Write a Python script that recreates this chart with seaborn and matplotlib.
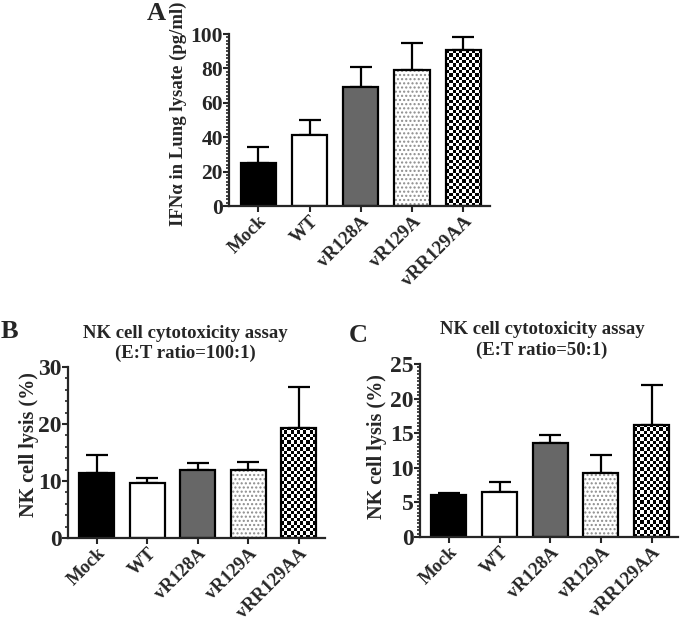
import numpy as np
import pandas as pd
import matplotlib
matplotlib.use("Agg")
import matplotlib.pyplot as plt
from matplotlib.ticker import MultipleLocator
import seaborn as sns

categories = ["Mock", "WT", "vR128A", "vR129A", "vRR129AA"]
ifn_mean = [25, 41, 69, 79, 90.5]
ifn_top = [34.5, 50, 81, 95, 98.5]
nk100_mean = [11.4, 9.7, 12.0, 12.0, 19.3]
nk100_top = [14.5, 10.5, 13.1, 13.3, 26.5]
nk50_mean = [6.0, 6.5, 13.6, 9.2, 16.2]
nk50_top = [6.4, 8.0, 14.7, 11.8, 22.0]

sns.set_theme(style="ticks")
plt.rcParams["font.family"] = ["Liberation Serif", "DejaVu Serif"]
plt.rcParams["font.weight"] = "bold"
plt.rcParams["axes.labelweight"] = "bold"
plt.rcParams["hatch.linewidth"] = 1.0

fig = plt.figure(figsize=(6.8, 6.23), dpi=100)
axA = fig.add_axes([229/680, 1-206/623, 261/680, 172/623])
axB = fig.add_axes([68/680, 1-538/623, 257/680, 171/623])
axC = fig.add_axes([420/680, 1-537/623, 258/680, 173/623])

fills = ["black", "white", "#676767", "white", "white"]


def draw(ax, mean, top, ymax, major, minor, ylabel, ylsize, yticksize):
    df = pd.DataFrame({"cat": categories, "val": mean})
    sns.barplot(data=df, x="cat", y="val", hue="cat", palette=fills,
                legend=False, ax=ax, width=0.69, edgecolor="black",
                linewidth=1.6, saturation=1, zorder=2)
    err_up = np.array(top) - np.array(mean)
    ax.errorbar(np.arange(len(mean)), mean, yerr=[np.zeros(len(mean)), err_up],
                fmt="none", ecolor="black", elinewidth=1.6, capsize=8,
                capthick=1.6, zorder=1)
    patches = ax.patches[:5]
    patches[3].set_hatch("....")
    patches[3].set_edgecolor("black")
    try:
        patches[3]._hatch_color = (0.55, 0.55, 0.55, 1)
    except Exception:
        pass
    ax.set_xlim(-0.57, 4.52)
    ax.set_ylim(0, ymax)
    ax.yaxis.set_major_locator(MultipleLocator(major))
    ax.yaxis.set_minor_locator(MultipleLocator(minor))
    ax.set_xlabel("")
    ax.set_ylabel(ylabel, fontsize=ylsize, fontweight="bold")
    ax.tick_params(axis="both", which="major", length=4, width=1.5, pad=1)
    ax.tick_params(axis="y", which="major", labelsize=yticksize, pad=0.5)
    ax.tick_params(axis="y", which="minor", length=2.5, width=1.2)
    ax.set_xticks(range(5))
    ax.set_xticklabels(categories, rotation=45, ha="right",
                       rotation_mode="anchor", fontsize=13.5, fontweight="bold")
    for lab in ax.get_yticklabels():
        lab.set_fontweight("bold")
    sns.despine(ax=ax)
    for s in ["left", "bottom"]:
        ax.spines[s].set_linewidth(1.6)
    ax.set_facecolor("white")


draw(axA, ifn_mean, ifn_top, 100, 20, 2, "IFNα in Lung lysate (pg/ml)", 13.5, 15.5)
draw(axB, nk100_mean, nk100_top, 30, 10, 2, "NK cell lysis (%)", 14.5, 17)
draw(axC, nk50_mean, nk50_top, 25, 5, 0.5, "NK cell lysis (%)", 14.5, 17)
axA.yaxis.set_label_coords(-0.16, 0.535)
axB.yaxis.set_label_coords(-0.113, 0.544)
axC.yaxis.set_label_coords(-0.128, 0.52)

fig.canvas.draw()
# checkerboard texture for the last bar of each panel
for ax in [axA, axB, axC]:
    p = ax.patches[4]
    bb = p.get_window_extent()
    ncol = max(1, int(round(bb.width / 3.3)))
    nrow = max(1, int(round(bb.height / 3.3)))
    checker = (np.add.outer(np.arange(nrow), np.arange(ncol)) % 2).astype(float)
    x0, y0 = p.get_x(), p.get_y()
    x1, y1 = x0 + p.get_width(), y0 + p.get_height()
    xl, yl = ax.get_xlim(), ax.get_ylim()
    im = ax.imshow(checker, extent=[x0, x1, y0, y1], cmap="gray",
                   interpolation="nearest", aspect="auto", zorder=1.9,
                   origin="lower")
    im.set_clip_path(p)
    p.set_facecolor("none")
    ax.set_xlim(xl)
    ax.set_ylim(yl)

fig.text(156/680, 1-13/623, "A", fontsize=19, fontweight="bold", ha="center", va="center")
fig.text(9/680, 1-332/623, "B", fontsize=19, fontweight="bold", ha="center", va="center")
fig.text(358/680, 1-335/623, "C", fontsize=19, fontweight="bold", ha="center", va="center")
fig.text(185/680, 1-333/623, "NK cell cytotoxicity assay", fontsize=13.5,
         fontweight="bold", ha="center", va="center")
fig.text(185/680, 1-353/623, "(E:T ratio=100:1)", fontsize=13.5,
         fontweight="bold", ha="center", va="center")
fig.text(542/680, 1-330/623, "NK cell cytotoxicity assay", fontsize=13.5,
         fontweight="bold", ha="center", va="center")
fig.text(542/680, 1-350/623, "(E:T ratio=50:1)", fontsize=13.5,
         fontweight="bold", ha="center", va="center")

fig.savefig("out.png", dpi=100, facecolor="white")
